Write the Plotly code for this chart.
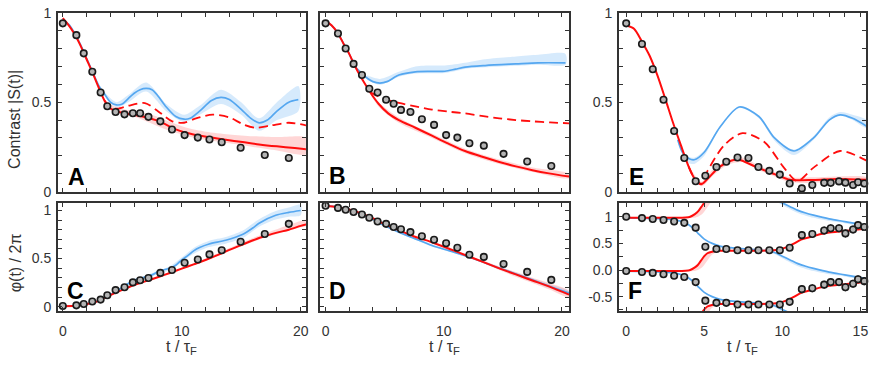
import plotly.graph_objects as go

# ---------------- data ----------------
# measured points
T_AC = [0, 1.14, 1.76, 2.48, 3.18, 3.74, 4.44, 5.19, 5.89, 6.5, 7.2, 8.2, 9.18, 10.24, 11.35, 12.33, 13.36, 14.95, 16.98, 19.0]
A_pts = [0.941, 0.875, 0.773, 0.670, 0.554, 0.477, 0.445, 0.432, 0.438, 0.438, 0.418, 0.393, 0.347, 0.316, 0.302, 0.291, 0.276, 0.245, 0.205, 0.188]
C_pts = [0.007, 0.013, 0.027, 0.053, 0.073, 0.119, 0.172, 0.202, 0.252, 0.275, 0.298, 0.351, 0.381, 0.457, 0.490, 0.543, 0.586, 0.675, 0.755, 0.861]

T_BD = [0, 1.05, 1.7, 2.37, 3.08, 3.7, 4.4, 5.12, 5.76, 6.38, 7.18, 8.15, 9.18, 10.2, 11.15, 12.17, 13.39, 15.06, 17.06, 19.1]
B_pts = [0.941, 0.884, 0.800, 0.714, 0.652, 0.575, 0.554, 0.514, 0.491, 0.457, 0.445, 0.405, 0.373, 0.316, 0.302, 0.270, 0.257, 0.211, 0.168, 0.143]
D_pts = [1.050, 1.027, 1.007, 0.984, 0.958, 0.924, 0.885, 0.861, 0.828, 0.805, 0.775, 0.732, 0.696, 0.659, 0.613, 0.540, 0.517, 0.444, 0.361, 0.278]

T_EF = [0, 1.01, 1.70, 2.39, 3.07, 3.72, 4.45, 5.07, 5.78, 6.41, 7.13, 7.83, 8.47, 9.17, 9.84, 10.47, 11.25, 11.92, 12.68, 13.1, 13.63, 14.04, 14.53, 14.85, 15.25]
E_pts = [0.941, 0.825, 0.684, 0.514, 0.339, 0.188, 0.058, 0.089, 0.138, 0.167, 0.191, 0.188, 0.138, 0.116, 0.095, 0.045, 0.018, 0.037, 0.049, 0.049, 0.057, 0.050, 0.037, 0.052, 0.045]
F_up_pts = [0.999, 0.975, 0.957, 0.940, 0.910, 0.886, 0.796, 0.437, 0.395, 0.395, 0.371, 0.371, 0.371, 0.371, 0.371, 0.419, 0.655, 0.676, 0.742, 0.784, 0.784, 0.688, 0.760, 0.844, 0.808]
F_lo_pts = [-0.018, -0.036, -0.054, -0.078, -0.108, -0.132, -0.227, -0.575, -0.616, -0.616, -0.646, -0.646, -0.646, -0.646, -0.646, -0.598, -0.359, -0.341, -0.275, -0.227, -0.227, -0.323, -0.257, -0.174, -0.209]
F_err = [0.02] * 16 + [0.075] * 9

# panel A curves
A_red_t = [0, 0.5, 1, 1.5, 2, 2.5, 3, 3.5, 4, 4.5, 5.3, 6.7, 8.1, 9.5, 10.9, 12.3, 13.7, 15.1, 16.5, 18, 19.5, 20.5]
A_red = [0.97, 0.93, 0.88, 0.815, 0.74, 0.665, 0.585, 0.51, 0.465, 0.45, 0.437, 0.42, 0.393, 0.348, 0.321, 0.305, 0.29, 0.277, 0.264, 0.253, 0.244, 0.237]
A_red_band_t = [3.5, 4.5, 6, 7.5, 9, 10.5, 12, 14, 16, 18, 20.5]
A_red_hi = [0.515, 0.47, 0.45, 0.43, 0.39, 0.355, 0.335, 0.32, 0.31, 0.305, 0.30]
A_red_lo = [0.505, 0.44, 0.42, 0.38, 0.34, 0.31, 0.29, 0.27, 0.25, 0.23, 0.21]
A_dash_t = [3.5, 4.0, 4.6, 5.5, 6.9, 8.0, 9.2, 10.2, 11.2, 12.6, 14.0, 15.2, 16.2, 17.5, 19.0, 20.5]
A_dash = [0.51, 0.47, 0.464, 0.48, 0.495, 0.45, 0.393, 0.385, 0.41, 0.43, 0.415, 0.375, 0.357, 0.37, 0.385, 0.37]
A_blue_t = [0, 0.5, 1, 1.5, 2, 2.5, 3, 3.4, 4.0, 4.5, 5, 5.5, 6, 6.5, 7, 7.5, 8, 8.7, 9.5, 10.2, 10.7, 11.5, 12.5, 13.3, 14, 15, 15.8, 16.5, 17.2, 18, 19, 19.8]
A_blue = [0.96, 0.935, 0.885, 0.82, 0.745, 0.67, 0.595, 0.556, 0.50, 0.485, 0.49, 0.52, 0.55, 0.57, 0.577, 0.57, 0.535, 0.473, 0.42, 0.405, 0.41, 0.45, 0.51, 0.527, 0.515, 0.46, 0.41, 0.384, 0.40, 0.45, 0.50, 0.514]
A_blue_band_t = [3.4, 4.5, 5.5, 7, 8.7, 10.2, 11.5, 13.3, 15, 16.5, 18, 19.8]
A_blue_hi = [0.565, 0.50, 0.54, 0.61, 0.49, 0.43, 0.48, 0.57, 0.50, 0.41, 0.50, 0.59]
A_blue_lo = [0.55, 0.47, 0.50, 0.56, 0.45, 0.39, 0.43, 0.49, 0.43, 0.34, 0.40, 0.45]

# panel B curves
B_red_t = [0, 0.5, 1, 1.5, 2, 2.5, 3, 3.5, 3.8, 4.5, 5.3, 6.2, 7.6, 9, 10.4, 11.8, 13.2, 14.7, 16.1, 17.5, 18.9, 20.6]
B_red = [0.955, 0.93, 0.89, 0.83, 0.77, 0.70, 0.64, 0.585, 0.553, 0.49, 0.4375, 0.40, 0.357, 0.3125, 0.268, 0.227, 0.196, 0.166, 0.141, 0.12, 0.102, 0.084]
B_red_band_t = [3.5, 4.5, 6.2, 9, 11.8, 14.7, 17.5, 20.6]
B_red_hi = [0.59, 0.50, 0.415, 0.325, 0.24, 0.18, 0.135, 0.10]
B_red_lo = [0.58, 0.475, 0.385, 0.30, 0.215, 0.155, 0.11, 0.075]
B_dash_t = [3.8, 4.4, 5.1, 6.2, 7.6, 9, 10.4, 11.8, 13.2, 14.7, 16.1, 17.5, 19, 20.6]
B_dash = [0.555, 0.535, 0.515, 0.496, 0.477, 0.459, 0.447, 0.4375, 0.423, 0.41, 0.40, 0.393, 0.387, 0.382]
B_blue_t = [0, 0.5, 1, 1.5, 2, 2.5, 3, 3.5, 4, 4.6, 5.2, 6.2, 7.6, 9, 10.1, 11, 11.8, 13.5, 16.1, 18, 20.3]
B_blue = [0.955, 0.93, 0.89, 0.83, 0.77, 0.70, 0.665, 0.635, 0.615, 0.607, 0.615, 0.652, 0.67, 0.672, 0.673, 0.685, 0.696, 0.705, 0.714, 0.72, 0.72]
B_blue_band_t = [3.5, 4.6, 6.2, 7.6, 9, 10.1, 11.8, 13.5, 16.1, 18, 20.3]
B_blue_hi = [0.65, 0.63, 0.67, 0.70, 0.705, 0.705, 0.72, 0.74, 0.755, 0.765, 0.77]
B_blue_lo = [0.625, 0.597, 0.642, 0.66, 0.662, 0.663, 0.686, 0.695, 0.704, 0.71, 0.71]

# panel E curves
E_red_t = [0, 0.5, 1, 1.5, 2, 2.5, 3, 3.5, 4, 4.4, 4.8, 5.2, 6, 7.1, 8.4, 9.5, 10.5, 12, 13.5, 15.4]
E_red = [0.93, 0.91, 0.84, 0.76, 0.65, 0.52, 0.385, 0.26, 0.14, 0.07, 0.041, 0.07, 0.14, 0.18, 0.134, 0.098, 0.066, 0.065, 0.07, 0.066]
E_red_band_t = [4.0, 4.8, 5.5, 6.5, 7.5, 8.5, 9.5, 10.5, 12, 13.5, 15.4]
E_red_hi = [0.15, 0.055, 0.12, 0.175, 0.19, 0.145, 0.11, 0.08, 0.08, 0.085, 0.08]
E_red_lo = [0.13, 0.03, 0.085, 0.15, 0.165, 0.12, 0.085, 0.052, 0.05, 0.055, 0.05]
E_dash_t = [4.0, 4.4, 4.8, 5.21, 6.27, 7.45, 8.85, 10.1, 10.96, 12.0, 13.7, 15.4]
E_dash = [0.14, 0.07, 0.045, 0.116, 0.259, 0.327, 0.277, 0.134, 0.059, 0.134, 0.227, 0.173]
E_blue_t = [3.3, 3.6, 4.0, 4.36, 5, 6, 7.24, 8.5, 9.5, 10.75, 12, 13, 13.7, 14.5, 15.4]
E_blue = [0.29, 0.22, 0.185, 0.178, 0.22, 0.36, 0.473, 0.42, 0.30, 0.227, 0.30, 0.40, 0.429, 0.41, 0.366]
E_blue_band_t = [3.6, 4.0, 4.36, 5, 6, 7.24, 8.5, 9.5, 10.75, 12, 13, 13.7, 14.5, 15.4]
E_blue_hi = [0.225, 0.195, 0.19, 0.23, 0.365, 0.478, 0.425, 0.305, 0.235, 0.31, 0.415, 0.445, 0.43, 0.40]
E_blue_lo = [0.215, 0.16, 0.155, 0.20, 0.355, 0.468, 0.41, 0.285, 0.205, 0.29, 0.395, 0.425, 0.40, 0.355]

# panel C curves
C_red_t = [0, 1, 2, 2.5, 3, 3.5, 4, 5, 6, 7, 8.1, 9, 10, 11, 12, 13, 14, 15, 16, 17, 18, 19, 20, 20.5]
C_red = [0.005, 0.01, 0.025, 0.04, 0.06, 0.09, 0.12, 0.175, 0.225, 0.265, 0.311, 0.35, 0.395, 0.44, 0.485, 0.535, 0.59, 0.64, 0.69, 0.735, 0.77, 0.80, 0.84, 0.855]
C_red_band_t = [8, 10, 12, 14, 16, 18, 20, 20.5]
C_red_hi = [0.315, 0.405, 0.50, 0.61, 0.715, 0.805, 0.89, 0.905]
C_red_lo = [0.305, 0.39, 0.478, 0.58, 0.675, 0.755, 0.825, 0.84]
C_blue_t = [0, 1, 2, 3, 4, 4.5, 5, 5.5, 6, 6.5, 7, 7.5, 8.1, 9, 9.5, 10, 10.5, 11, 11.5, 12.3, 13.7, 15.1, 16, 16.5, 17.9, 19, 20]
C_blue = [0.005, 0.01, 0.025, 0.06, 0.125, 0.16, 0.20, 0.24, 0.275, 0.295, 0.31, 0.33, 0.37, 0.40, 0.43, 0.487, 0.53, 0.58, 0.615, 0.652, 0.69, 0.75, 0.82, 0.868, 0.95, 0.98, 1.0]
C_blue_band_t = [5, 7, 9, 10, 11, 12.3, 13.7, 15.1, 16.5, 17.9, 19, 20]
C_blue_hi = [0.21, 0.325, 0.42, 0.51, 0.61, 0.685, 0.725, 0.79, 0.91, 0.995, 1.03, 1.06]
C_blue_lo = [0.19, 0.295, 0.38, 0.465, 0.55, 0.62, 0.655, 0.71, 0.83, 0.905, 0.935, 0.95]

# panel D curves
D_red_t = [0, 1, 2, 3, 4, 4.8, 6.2, 7.5, 9, 10.5, 11.8, 13.2, 14.7, 16.1, 17.5, 19, 20.6]
D_red = [1.05, 1.035, 1.01, 0.97, 0.92, 0.868, 0.795, 0.73, 0.669, 0.60, 0.537, 0.47, 0.398, 0.335, 0.272, 0.205, 0.125]
D_red_band_t = [11.8, 13.2, 14.7, 16.1, 17.5, 19, 20.6]
D_red_hi = [0.545, 0.485, 0.418, 0.36, 0.30, 0.24, 0.165]
D_red_lo = [0.53, 0.458, 0.38, 0.31, 0.245, 0.175, 0.095]
D_blue_t = [0, 1, 2, 3, 4, 4.8, 6.2, 7.5, 9, 10.5, 11.8, 13.2, 14.7, 16.1, 17.5, 19, 20.6]
D_blue = [1.05, 1.035, 1.01, 0.965, 0.91, 0.855, 0.775, 0.71, 0.636, 0.58, 0.53, 0.47, 0.40, 0.34, 0.278, 0.21, 0.14]
D_blue_band_t = [3, 4.8, 6.2, 7.5, 9, 10.5, 11.8, 13.2, 14.7, 16.1, 17.5, 19, 20.6]
D_blue_hi = [0.97, 0.862, 0.785, 0.72, 0.65, 0.59, 0.54, 0.48, 0.415, 0.355, 0.295, 0.23, 0.16]
D_blue_lo = [0.96, 0.848, 0.765, 0.70, 0.625, 0.57, 0.52, 0.46, 0.39, 0.325, 0.26, 0.19, 0.12]

# panel F curves (phase / 2pi, drawn on three branches offset by whole turns)
F_branches = [-1, 0, 1]
F_red_t = [0, 1, 2, 3, 3.8, 4.1, 4.4, 4.6, 4.8, 5.0, 5.2, 5.5, 6, 7, 8, 9, 9.7, 10.2, 10.7, 11.2, 11.8, 12.4, 12.9, 14, 15.4]
F_red = [-0.02, -0.02, -0.02, -0.02, -0.015, 0.0, 0.05, 0.10, 0.18, 0.26, 0.315, 0.345, 0.36, 0.36, 0.36, 0.365, 0.38, 0.42, 0.49, 0.57, 0.62, 0.67, 0.70, 0.735, 0.78]
F_red_band_t = [4.0, 4.3, 4.6, 4.9, 5.2, 5.5, 5.8, 6.2]
F_red_hi = [0.0, 0.04, 0.11, 0.22, 0.32, 0.35, 0.36, 0.365]
F_red_lo = [-0.025, -0.02, 0.0, 0.06, 0.18, 0.29, 0.34, 0.355]
F_blue_t = [0, 1, 2, 3, 3.5, 4.0, 4.3, 4.6, 5.0, 5.5, 6, 7, 8, 9, 9.5, 10, 10.5, 11, 11.5, 12, 13, 14, 15.4]
F_blue = [0.98, 0.975, 0.965, 0.945, 0.915, 0.85, 0.78, 0.69, 0.58, 0.50, 0.45, 0.41, 0.39, 0.36, 0.33, 0.26, 0.19, 0.12, 0.07, 0.03, -0.04, -0.09, -0.16]
F_blue_band_t = [9, 9.5, 10, 10.5, 11, 11.5, 12, 13, 14, 15.4]
F_blue_hi = [0.36, 0.33, 0.26, 0.19, 0.12, 0.07, 0.03, -0.04, -0.09, -0.16]
F_blue_lo = [0.35, 0.30, 0.22, 0.14, 0.07, 0.02, -0.02, -0.08, -0.12, -0.19]

# tick labels
X_TICKS_20 = list(range(0, 21, 2))
X_LABELS_20 = {0: "0", 10: "10", 20: "20"}
X_TICKS_15 = list(range(0, 16))
X_LABELS_15 = {0: "0", 5: "5", 10: "10", 15: "15"}
Y_TICKS_01 = [round(0.1 * i, 1) for i in range(11)]
Y_LABELS_01 = {0.0: "0", 0.5: "0.5", 1.0: "1"}
Y_TICKS_F = [-0.75, -0.5, -0.25, 0.0, 0.25, 0.5, 0.75, 1.0, 1.25]
Y_LABELS_F = {-0.5: "-0.5", 0.0: "0.0", 0.5: "0.5", 1.0: "1"}

# ---------------- styling ----------------
W, H = 872, 366
RED = "#ff0d0d"
BLUE = "#55a7f0"
RED_BAND = "rgba(255,120,120,0.30)"
BLUE_BAND = "rgba(120,185,245,0.30)"
FONT = "Liberation Sans, Arial, sans-serif"
AX = "#333333"

fig = go.Figure()


def band(xa, ya, t, lo, hi, color, shift=0.0):
    fig.add_trace(go.Scatter(
        x=list(t) + list(t)[::-1],
        y=[v + shift for v in hi] + [v + shift for v in lo][::-1],
        xaxis=xa, yaxis=ya, mode="lines", fill="toself", fillcolor=color,
        line=dict(width=0, shape="spline", smoothing=0.8), hoverinfo="skip", showlegend=False))


def line(xa, ya, t, v, color, width=2.0, dash="solid", shift=0.0):
    fig.add_trace(go.Scatter(
        x=t, y=[y + shift for y in v], xaxis=xa, yaxis=ya, mode="lines",
        line=dict(color=color, width=width, dash=dash, shape="spline", smoothing=0.8),
        hoverinfo="skip", showlegend=False))


def points(xa, ya, t, v, err=None):
    fig.add_trace(go.Scatter(
        x=t, y=v, xaxis=xa, yaxis=ya, mode="markers", cliponaxis=False,
        marker=dict(size=6.5, color="#b4b4b4", line=dict(color="#1a1a1a", width=1.6)),
        error_y=(dict(type="data", array=err, color="#1a1a1a", thickness=1.2, width=0) if err else None),
        hoverinfo="skip", showlegend=False))


DASH = "9px,5px"

# A
band("x", "y", A_blue_band_t, A_blue_lo, A_blue_hi, BLUE_BAND)
band("x", "y", A_red_band_t, A_red_lo, A_red_hi, RED_BAND)
line("x", "y", A_blue_t, A_blue, BLUE, 1.7)
line("x", "y", A_dash_t, A_dash, RED, 1.8, DASH)
line("x", "y", A_red_t, A_red, RED, 2.0)
points("x", "y", T_AC, A_pts)
# B
band("x2", "y2", B_blue_band_t, B_blue_lo, B_blue_hi, BLUE_BAND)
band("x2", "y2", B_red_band_t, B_red_lo, B_red_hi, RED_BAND)
line("x2", "y2", B_blue_t, B_blue, BLUE, 1.7)
line("x2", "y2", B_dash_t, B_dash, RED, 1.8, DASH)
line("x2", "y2", B_red_t, B_red, RED, 2.0)
points("x2", "y2", T_BD, B_pts)
# E
band("x3", "y3", E_blue_band_t, E_blue_lo, E_blue_hi, BLUE_BAND)
band("x3", "y3", E_red_band_t, E_red_lo, E_red_hi, RED_BAND)
line("x3", "y3", E_blue_t, E_blue, BLUE, 1.7)
line("x3", "y3", E_dash_t, E_dash, RED, 1.8, DASH)
line("x3", "y3", E_red_t, E_red, RED, 2.0)
points("x3", "y3", T_EF, E_pts)
# C
band("x4", "y4", C_blue_band_t, C_blue_lo, C_blue_hi, BLUE_BAND)
band("x4", "y4", C_red_band_t, C_red_lo, C_red_hi, RED_BAND)
line("x4", "y4", C_blue_t, C_blue, BLUE, 1.7)
line("x4", "y4", C_red_t, C_red, RED, 2.0)
points("x4", "y4", T_AC, C_pts)
# D
band("x5", "y5", D_blue_band_t, D_blue_lo, D_blue_hi, BLUE_BAND)
band("x5", "y5", D_red_band_t, D_red_lo, D_red_hi, RED_BAND)
line("x5", "y5", D_blue_t, D_blue, BLUE, 1.7)
line("x5", "y5", D_red_t, D_red, RED, 2.0)
points("x5", "y5", T_BD, D_pts)
# F
for k in F_branches:
    band("x6", "y6", F_blue_band_t, F_blue_lo, F_blue_hi, BLUE_BAND, k)
    band("x6", "y6", F_red_band_t, F_red_lo, F_red_hi, RED_BAND, k)
for k in F_branches:
    line("x6", "y6", F_blue_t, F_blue, BLUE, 1.7, shift=k)
for k in F_branches:
    line("x6", "y6", F_red_t, F_red, RED, 2.0, shift=k)
points("x6", "y6", T_EF, F_up_pts, F_err)
points("x6", "y6", T_EF, F_lo_pts, F_err)


def xd(a, b):
    return [a / W, b / W]


def yd(top, bottom):
    return [1 - bottom / H, 1 - top / H]


def axis(domain, rng, ticks, labels, show_labels, anchor, standoff):
    return dict(
        domain=domain, range=rng, anchor=anchor,
        tickmode="array", tickvals=ticks,
        ticktext=[(labels.get(v, "") if show_labels else "") for v in ticks],
        ticks="inside", ticklen=4, tickwidth=1, tickcolor=AX,
        showline=True, linecolor=AX, linewidth=1.5, mirror="ticks",
        showgrid=False, zeroline=False, ticklabelstandoff=standoff,
        ticklabeloverflow="allow",
        tickfont=dict(family=FONT, size=14, color=AX), fixedrange=True)


XA = xd(58, 307)
XB = xd(321, 571)
XE = xd(621, 869)
YT = yd(5, 192)
YB = yd(204, 317)
R20a = [-0.42, 20.44]
R20b = [-0.48, 20.6]
R15 = [-0.47, 15.36]
RC = [-0.047, 1.077]
RF = [-0.772, 1.257]
XS = 6   # x tick label standoff
YS = 2   # y tick label standoff

fig.update_layout(
    width=W, height=H, margin=dict(l=0, r=0, t=0, b=0),
    paper_bgcolor="white", plot_bgcolor="white", showlegend=False,
    xaxis=axis(XA, R20a, X_TICKS_20, X_LABELS_20, False, "y", XS),
    yaxis=axis(YT, [0, 1], Y_TICKS_01, Y_LABELS_01, True, "x", YS),
    xaxis2=axis(XB, R20b, X_TICKS_20, X_LABELS_20, False, "y2", XS),
    yaxis2=axis(YT, [0, 1], Y_TICKS_01, Y_LABELS_01, False, "x2", YS),
    xaxis3=axis(XE, R15, X_TICKS_15, X_LABELS_15, False, "y3", XS),
    yaxis3=axis(YT, [0, 1], Y_TICKS_01, Y_LABELS_01, True, "x3", YS),
    xaxis4=axis(XA, R20a, X_TICKS_20, X_LABELS_20, True, "y4", XS),
    yaxis4=axis(YB, RC, Y_TICKS_01, Y_LABELS_01, True, "x4", YS),
    xaxis5=axis(XB, R20b, X_TICKS_20, X_LABELS_20, True, "y5", XS),
    yaxis5=axis(YB, RC, Y_TICKS_01, Y_LABELS_01, False, "x5", YS),
    xaxis6=axis(XE, R15, X_TICKS_15, X_LABELS_15, True, "y6", XS),
    yaxis6=axis(YB, RF, Y_TICKS_F, Y_LABELS_F, True, "x6", YS),
)

ann = []
for txt, px, py in [("A", 76.5, 176.5), ("B", 339, 175.5), ("E", 638.5, 176.5),
                    ("C", 75.5, 295.5), ("D", 339, 296), ("F", 637.5, 296)]:
    ann.append(dict(text="<b>%s</b>" % txt, x=px / W, y=1 - py / H, xref="paper", yref="paper",
                    xanchor="center", yanchor="middle", showarrow=False,
                    font=dict(family=FONT, size=23, color="black")))
for px in [182.5, 446, 745]:
    ann.append(dict(text="t / τ<sub>F</sub>", x=px / W, y=1 - 342.5 / H, xref="paper", yref="paper",
                    xanchor="center", yanchor="top", showarrow=False,
                    font=dict(family=FONT, size=16, color=AX)))
ann.append(dict(text="Contrast |S(t)|", x=15 / W, y=1 - 116 / H, xref="paper", yref="paper",
                xanchor="center", yanchor="middle", textangle=-90, showarrow=False,
                font=dict(family=FONT, size=16, color=AX)))
ann.append(dict(text="φ(t) / 2π", x=15 / W, y=1 - 266 / H, xref="paper", yref="paper",
                xanchor="center", yanchor="middle", textangle=-90, showarrow=False,
                font=dict(family=FONT, size=16, color=AX)))
fig.update_layout(annotations=ann)

fig.write_html("out.html", config={"displayModeBar": False},
               post_script="document.body.style.margin='0';document.body.style.overflow='hidden';")
